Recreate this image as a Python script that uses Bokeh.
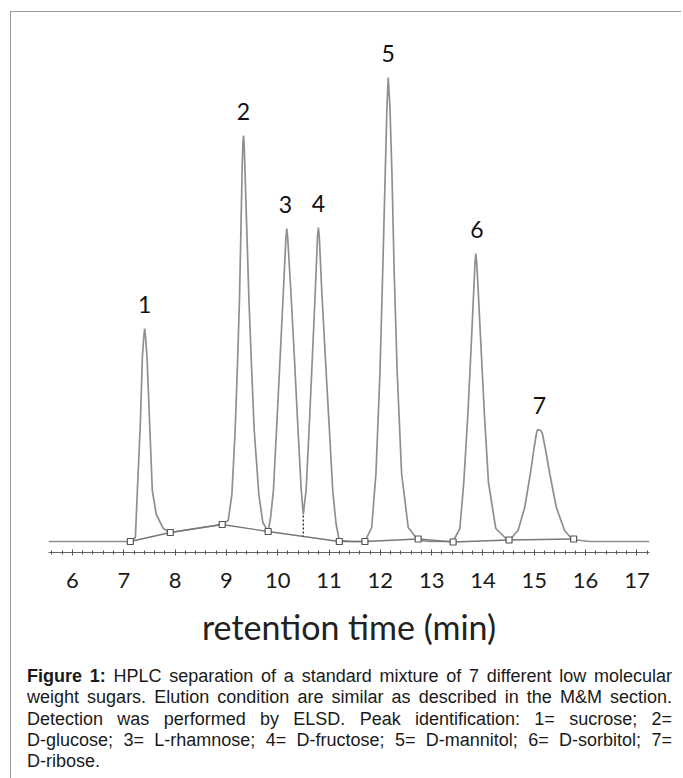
from bokeh.plotting import figure
from bokeh.models import Div, SingleIntervalTicker
from bokeh.layouts import column
from bokeh.core.properties import value
from bokeh.embed import file_html
from bokeh.resources import INLINE

# ---- data (time in min, detector signal in arbitrary units) ----
trace_time = [5.533, 6.545, 7.128, 7.226, 7.265, 7.323, 7.362, 7.391, 7.407, 7.424, 7.453, 7.504,
              7.556, 7.634, 7.770, 7.907, 8.400, 8.918, 9.035, 9.107, 9.171, 9.216, 9.255, 9.282,
              9.307, 9.320, 9.333, 9.346, 9.360, 9.399, 9.438, 9.488, 9.541, 9.632, 9.710, 9.813,
              9.861, 9.916, 9.983, 10.047, 10.111, 10.160, 10.177, 10.194, 10.255, 10.325, 10.389,
              10.459, 10.498, 10.553, 10.617, 10.675, 10.733, 10.775, 10.792, 10.810, 10.858,
              10.928, 11.000, 11.072, 11.136, 11.200, 11.450, 11.700, 11.831, 11.914, 11.992,
              12.045, 12.095, 12.128, 12.154, 12.187, 12.226, 12.270, 12.329, 12.414, 12.543,
              12.737, 12.965, 13.418, 13.549, 13.626, 13.704, 13.768, 13.827, 13.845, 13.860,
              13.877, 13.899, 13.963, 14.029, 14.107, 14.249, 14.488, 14.508, 14.683, 14.813,
              14.924, 14.988, 15.041, 15.066, 15.124, 15.158, 15.222, 15.300, 15.430, 15.591,
              15.741, 16.078, 17.245]
trace_signal = [1, 1, 1, 5, 52, 119, 185, 206, 214, 206, 185, 119,
                52, 28, 14, 10, 14, 18, 22, 48, 113, 178, 244, 310,
                375, 398, 407, 398, 375, 310, 244, 178, 113, 48, 20, 11,
                25, 52, 119, 185, 252, 305, 314, 305, 252, 185, 119,
                52, 28, 52, 119, 185, 252, 306, 315, 306, 252,
                185, 119, 52, 19, 2, 1, 1, 15, 69, 169,
                269, 369, 435, 465, 435, 369, 269, 169, 69, 15,
                2, 1, 1, 14, 60, 127, 194, 260, 280, 289,
                280, 260, 194, 127, 60, 14, 2, 2, 12, 35,
                69, 92, 109, 113, 112, 109, 92, 69, 35, 12,
                3, 1, 1]

# integration baseline points (markers)
base_time = [7.128, 7.907, 8.918, 9.813, 11.200, 11.700, 12.737, 13.418, 14.508, 15.767]
base_signal = [1, 10, 18, 11, 1, 1, 3.5, 0.5, 2.5, 3.5]

# drop line between peaks 3 and 4
drop_time = [10.498, 10.498]
drop_signal = [27, 6]

# peak identification labels
peak_labels = ["1", "2", "3", "4", "5", "6", "7"]
peak_time = [7.407, 9.333, 10.150, 10.792, 12.154, 13.880, 15.100]
peak_height = [214, 407, 314, 315, 465, 289, 113]

p = figure(width=660, height=640, output_backend="svg", toolbar_location=None,
           x_range=(5.533, 17.245), y_range=(-10, 510), y_axis_location=None,
           min_border_left=37, min_border_right=22, min_border_top=20, min_border_bottom=100,
           background_fill_color="white", border_fill_color="white")
p.outline_line_color = None
p.grid.visible = False

p.line(trace_time, trace_signal, line_color="#8f8f8f", line_width=1.7)
p.line(base_time, base_signal, line_color="#777777", line_width=1.3)
p.scatter(base_time, base_signal, marker="square", size=6, line_color="#555555",
          fill_color="white", line_width=1.2)
p.line(drop_time, drop_signal, line_color="#222222", line_width=1.3, line_dash="2 2")

p.text(x=peak_time, y=peak_height, text=peak_labels, text_align="center",
       text_baseline="alphabetic", y_offset=-24, text_font=value("Lato"),
       text_font_size="23px", text_color="#111111")

ax = p.xaxis[0]
ax.ticker = SingleIntervalTicker(interval=1, num_minor_ticks=5)
ax.axis_line_color = "#666666"
ax.axis_line_width = 1.2
ax.major_tick_line_color = "#555555"
ax.major_tick_in = 3
ax.major_tick_out = 3
ax.minor_tick_line_color = "#555555"
ax.minor_tick_in = 2
ax.minor_tick_out = 2
ax.major_label_text_font = "Lato"
ax.major_label_text_font_size = "22px"
ax.major_label_text_color = "#1a1a1a"
ax.major_label_standoff = 17
ax.axis_label = "retention time (min)"
ax.axis_label_text_font = "Lato"
ax.axis_label_text_font_size = "34px"
ax.axis_label_text_font_style = "normal"
ax.axis_label_text_color = "#222222"
ax.axis_label_standoff = 15

caption_lines = [
    "<b>Figure 1:</b> HPLC separation of a standard mixture of 7 different low molecular",
    "weight sugars. Elution condition are similar as described in the M&amp;M section.",
    "Detection was performed by ELSD. Peak identification: 1= sucrose; 2=",
    "D-glucose; 3= L-rhamnose; 4= D-fructose; 5= D-mannitol; 6= D-sorbitol; 7=",
    "D-ribose.",
]
html = ['<div style="width:645px; padding:9px 0 0 11px; font-family:\'Liberation Sans\', Arial, sans-serif; '
        'font-size:18px; line-height:21.3px; color:#1a1a1a;">']
for i, ln in enumerate(caption_lines):
    last = i == len(caption_lines) - 1
    align = "left" if last else "justify"
    html.append(f'<div style="width:645px; text-align:{align}; text-align-last:{align};">{ln}</div>')
html.append('</div>')
caption = Div(text="".join(html), width=660, height=124)

layout = column(p, caption, spacing=0,
                styles={"border-left": "1.5px solid #9a9a9a", "border-top": "1.5px solid #9a9a9a",
                        "margin-left": "10px", "margin-top": "11px"})

open("out.html", "w").write(file_html(layout, INLINE))
